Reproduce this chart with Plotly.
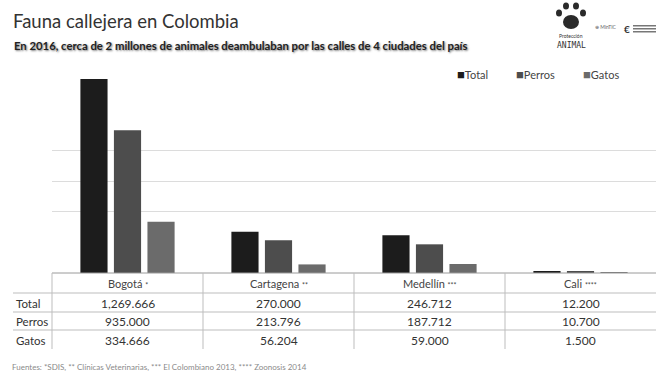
import plotly.graph_objects as go

W, H = 663, 379

# ---- data ----
ciudades = ["Bogotá", "Cartagena", "Medellín", "Cali"]
marcas = ["*", "**", "***", "****"]
total = [1269666, 270000, 246712, 12200]
perros = [935000, 213796, 187712, 10700]
gatos = [334666, 56204, 59000, 1500]
series_names = ["Total", "Perros", "Gatos"]
series_colors = ["#1c1c1c", "#4d4d4d", "#6b6b6b"]
grid_vals = [400000, 600000, 800000]

title = "Fauna callejera en Colombia"
subtitle = "En 2016, cerca de 2 millones de animales deambulaban por las calles de 4 ciudades del país"
footnote = "Fuentes: *SDIS, ** Clínicas Veterinarias, *** El Colombiano 2013, **** Zoonosis 2014"

FONT = "Lato"

def py(ypx):
    return 1 - ypx / H

def px(xpx):
    return xpx / W

def fmt(v):
    parts = f"{v:,}".split(",")
    if len(parts) == 3:
        return parts[0] + "," + parts[1] + "." + parts[2]
    return ".".join(parts)

x_left, x_right = 52, 656
base_px, top_px = 273, 58
ymax = (base_px - top_px) / 194 * 1269666

fig = go.Figure()
for name, vals, col in zip(series_names, [total, perros, gatos], series_colors):
    fig.add_trace(go.Bar(x=ciudades, y=vals, name=name, marker=dict(color=col, line=dict(width=0)),
                         showlegend=False))

ann = []
shapes = []

# titles
ann.append(dict(x=px(11), y=py(21), xref="paper", yref="paper", xanchor="left", yanchor="middle",
                text=title, showarrow=False, font=dict(family=FONT, size=18.5, color="#333333")))
ann.append(dict(x=px(12), y=py(45), xref="paper", yref="paper", xanchor="left", yanchor="middle",
                text="<b>" + subtitle + "</b>", showarrow=False,
                font=dict(family=FONT, size=11.3, color="#222222", shadow="1px 1px 2px #777")))

# legend built from series names/colors
leg_x = [455, 514, 581]
for lx, name, col in zip(leg_x, series_names, series_colors):
    ann.append(dict(x=px(lx), y=py(74), xref="paper", yref="paper", xanchor="left", yanchor="middle",
                    text=f"<span style='color:{col};font-size:13px'>■</span>{name}", showarrow=False,
                    font=dict(family=FONT, size=11, color="#444444")))

# table
row_y = [303, 321, 340]
row_labels = ["Total", "Perros", "Gatos"]
for ry, lab, vals in zip(row_y, row_labels, [total, perros, gatos]):
    ann.append(dict(x=px(14), y=py(ry), xref="paper", yref="paper", xanchor="left", yanchor="middle",
                    text=lab, showarrow=False, font=dict(family=FONT, size=11.5, color="#333333")))
    for c, v in zip(ciudades, vals):
        ann.append(dict(x=c, y=py(ry), xref="x", yref="paper", xanchor="center", yanchor="middle",
                        text=fmt(v), showarrow=False, font=dict(family=FONT, size=12, color="#333333")))
for c, m in zip(ciudades, marcas):
    ann.append(dict(x=c, y=py(283), xref="x", yref="paper", xanchor="center", yanchor="middle",
                    text=f"{c} <span style='font-size:7px'>{m}</span>", showarrow=False,
                    font=dict(family=FONT, size=11, color="#444444")))

line_col = "#bdbdbd"
shapes.append(dict(type="line", xref="paper", yref="paper", x0=px(x_left), x1=px(x_right),
                   y0=py(base_px), y1=py(base_px), line=dict(color="#9a9a9a", width=1)))
for ly in [293, 312, 330]:
    shapes.append(dict(type="line", xref="paper", yref="paper", x0=px(13), x1=px(x_right),
                       y0=py(ly), y1=py(ly), line=dict(color=line_col, width=1)))
colw = (x_right - x_left) / len(ciudades)
for i in range(len(ciudades)):
    xx = x_left + i * colw
    shapes.append(dict(type="line", xref="paper", yref="paper", x0=px(xx), x1=px(xx),
                       y0=py(base_px), y1=py(349), line=dict(color=line_col, width=1)))

# footnote
ann.append(dict(x=px(10), y=py(367), xref="paper", yref="paper", xanchor="left", yanchor="middle",
                text=footnote, showarrow=False, font=dict(family=FONT, size=8, color="#8a8a8a")))

# logo (decorative)
paw = [(571, 22, 8, 7), (559, 13, 3, 3.5), (566, 6, 3, 3.5), (576, 6, 3, 3.5), (583, 13, 3, 3.5)]
for cx, cy, rx, ry_ in paw:
    shapes.append(dict(type="circle", xref="paper", yref="paper", x0=px(cx - rx), x1=px(cx + rx),
                       y0=py(cy + ry_), y1=py(cy - ry_), fillcolor="#2a2a2a", line=dict(width=0)))
ann.append(dict(x=px(571), y=py(36), xref="paper", yref="paper", xanchor="center", yanchor="middle",
                text="Protección", showarrow=False, font=dict(family=FONT, size=5, color="#333333")))
ann.append(dict(x=px(571), y=py(45), xref="paper", yref="paper", xanchor="center", yanchor="middle",
                text="ANIMAL", showarrow=False, font=dict(family="DejaVu Sans Mono", size=8, color="#333333")))
ann.append(dict(x=px(606), y=py(27), xref="paper", yref="paper", xanchor="center", yanchor="middle",
                text="⊕ MinTIC", showarrow=False, font=dict(family=FONT, size=5, color="#666666")))
ann.append(dict(x=px(627), y=py(29), xref="paper", yref="paper", xanchor="center", yanchor="middle",
                text="<b>€</b>", showarrow=False, font=dict(family=FONT, size=10, color="#333333")))
for ly in [25, 28, 31]:
    shapes.append(dict(type="rect", xref="paper", yref="paper", x0=px(633), x1=px(656),
                       y0=py(ly + 1.5), y1=py(ly), fillcolor="#777777", line=dict(width=0)))

fig.update_layout(
    width=W, height=H, autosize=False,
    margin=dict(l=0, r=0, t=0, b=0),
    paper_bgcolor="white", plot_bgcolor="rgba(0,0,0,0)",
    barmode="group", bargap=0.334, bargroupgap=0.19,
    xaxis=dict(domain=[px(x_left), px(x_right)], showticklabels=False, showgrid=False,
               zeroline=False, showline=False, ticks=""),
    yaxis=dict(domain=[py(base_px), py(top_px)], range=[0, ymax], tickvals=grid_vals,
               showticklabels=False, showgrid=True, gridcolor="#dcdcdc", gridwidth=1,
               zeroline=False, showline=False, ticks=""),
    annotations=ann, shapes=shapes, showlegend=False,
)

fig.write_html("out.html")
